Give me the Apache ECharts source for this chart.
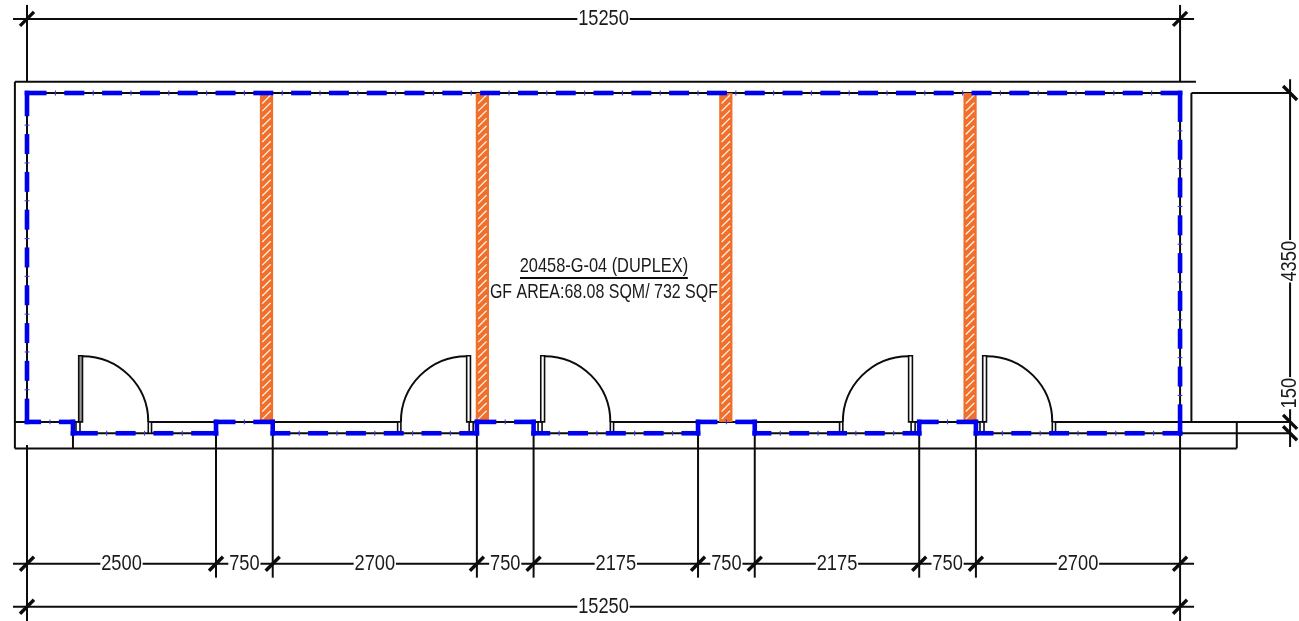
<!DOCTYPE html>
<html><head><meta charset="utf-8">
<style>html,body{margin:0;padding:0;background:#fff}#c{width:1299px;height:621px}</style>
<script src="https://cdn.jsdelivr.net/npm/echarts@6/dist/echarts.min.js"></script>
</head><body><div id="c"></div>
<script>
// plan values in millimetres
const bayDims = [2500,750,2700,750,2175,750,2175,750,2700];
const overallLength = 15250;
const roomDepth = 4350;
const stepDepth = 150;
const columnLeft = [3080,5935,9155,12385];
const columnWidth = 175;
// door: [hinge x, swing direction]
const doors = [[734,1],[5815,-1],[6845,1],[11660,-1],[12690,1]];
const doorRadius = 870, leafLength = 875, leafThick = 50;
const titleText = '20458-G-04 (DUPLEX)';
const areaText = 'GF AREA:68.08 SQM/ 732 SQF';

const cum = [0]; bayDims.forEach(d => cum.push(cum[cum.length-1]+d));
const yB = roomDepth, yS = roomDepth+stepDepth;
const frameTop=-150, frameBot=4700, frameLeft=-160, frameRight=16000;
const dimTop=-980, dim1=6225, dim2=6795, dimRight=16705, lineL=-185, lineR=15435;

// blue wall outline (each run is patterned on its own)
const outline = [[0,yB],[608,yB],[608,yS]];
for (let i=1;i<cum.length-1;i+=2){
  outline.push([cum[i],yS],[cum[i],yB],[cum[i+1],yB],[cum[i+1],yS]);
}
outline.push([overallLength,yS],[overallLength,0],[0,0],[0,yB]);
const wallRuns = outline.slice(1).map((p,i)=>[outline[i][0],outline[i][1],p[0],p[1]]);

// thin black linework
const black = [
 [frameLeft,frameTop,15460,frameTop],[frameLeft,frameTop,frameLeft,frameBot],
 [frameLeft,frameBot,frameRight,frameBot],[frameRight,yB,frameRight,frameBot],
 [608,yB,608,frameBot],[15400,0,15400,yB],
 [15400,0,dimRight,0],[overallLength,yS,dimRight,yS],
 [dimRight,-181,dimRight,4682],
 [0,-1165,0,frameTop],[overallLength,-1165,overallLength,frameTop],
 [lineL,dimTop,lineR,dimTop],[lineL,dim1,lineR,dim1],[lineL,dim2,lineR,dim2],
 [0,4655,0,6985],[overallLength,yS,overallLength,6985]
];
cum.slice(1,-1).forEach((x,i)=>black.push([x,i%2?yS:yB,x,6410]));
// top of front wall between door openings
let wx = frameLeft;
doors.forEach(([c,d])=>{
  const a = d>0 ? c-86 : c-doorRadius-43, b = d>0 ? c+doorRadius+43 : c+86;
  black.push([wx,yB,a,yB]); wx=b;
});
black.push([wx,yB,dimRight,yB]);

const ticksUp = [[0,dimTop],[overallLength,dimTop],[0,dim2],[overallLength,dim2]].concat(cum.map(x=>[x,dim1]));
const ticksDown = [[dimRight,0],[dimRight,yB],[dimRight,yS]];

const labels = [
 [overallLength/2,dimTop,String(overallLength),0],
 [overallLength/2,dim2,String(overallLength),0],
 [dimRight,roomDepth/2+50,String(roomDepth),1],
 [dimRight,3970,String(stepDepth),1]
];
bayDims.forEach((d,i)=>labels.push([(cum[i]+cum[i+1])/2,dim1,String(d),0]));

const FONT = '"Liberation Sans",Arial,sans-serif';
const INK = '#0c0c0c';
const seg = (shape,style)=>({type:'line',shape,style});

const chart = echarts.init(document.getElementById('c'),null,{renderer:'canvas'});
const custom = (data,renderItem,z)=>({type:'custom',data,renderItem,z,silent:true,animation:false,clip:false,
  coordinateSystem:'cartesian2d',encode:{x:0,y:1}});
const lineItem = (lw,col)=>(p,api)=>{
  const a=api.coord([api.value(0),api.value(1)]),b=api.coord([api.value(2),api.value(3)]);
  return seg({x1:a[0],y1:a[1],x2:b[0],y2:b[1]},{stroke:col,lineWidth:lw,lineCap:'butt'});
};
const PERIOD=37.8,DASH=20,GAP=8.9;
const BLUE='#0000F0';
chart.setOption({
 animation:false,
 grid:{left:0,right:0,top:0,bottom:0},
 xAxis:{type:'value',min:-357,max:16823,show:false},
 yAxis:{type:'value',min:-1230,max:6983,inverse:true,show:false},
 series:[
  custom(black,lineItem(2,INK),1),
  custom(wallRuns,lineItem(2,INK),2),
  // door jambs, leaves and swings
  custom(doors,(p,api)=>{
    const c=api.value(0),d=api.value(1);
    const P=(x,y)=>api.coord([x,y]);
    const box=(x0,x1,y0,y1,fill)=>{const a=P(Math.min(x0,x1),y0),b=P(Math.max(x0,x1),y1);
      return {type:'rect',shape:{x:a[0],y:a[1],width:b[0]-a[0],height:b[1]-a[1]},style:{fill,stroke:INK,lineWidth:1.6}};};
    const o=P(c,yB),r=P(c+doorRadius,yB)[0]-o[0];
    const arc=d>0?{startAngle:-Math.PI/2,endAngle:0}:{startAngle:Math.PI,endAngle:Math.PI*1.5};
    return {type:'group',children:[
      box(c-d*33,c-d*86,yB,yS,'#fff'),
      box(c+d*doorRadius,c+d*(doorRadius+43),yB,yS,'#fff'),
      box(c,c-d*leafThick,yB-leafLength,yB,p.dataIndex===0?'#999':'#fff'),
      {type:'arc',shape:{cx:o[0],cy:o[1],r,startAngle:arc.startAngle,endAngle:arc.endAngle,clockwise:true},
       style:{fill:null,stroke:INK,lineWidth:2}}
    ]};
  },3),
  // hatched columns
  custom(columnLeft,(p,api)=>{
    const a=api.coord([api.value(0),0]),b=api.coord([api.value(0)+columnWidth,yB]);
    const w=b[0]-a[0],h=b[1]-a[1];
    const kids=[{type:'rect',shape:{x:a[0],y:a[1],width:w,height:h},style:{fill:'#F0702B'}}];
    const inset=2.4,run=w-2*inset;
    for(let y=a[1]+2;y+run<b[1]-1;y+=7.7){
      kids.push(seg({x1:a[0]+inset,y1:y+run,x2:a[0]+inset+run,y2:y},{stroke:'#fff',lineWidth:1.3,opacity:.9}));
    }
    return {type:'group',children:kids};
  },4),
  // blue dashed outline
  custom(wallRuns,(p,api)=>{
    const a=api.coord([api.value(0),api.value(1)]),b=api.coord([api.value(2),api.value(3)]);
    const L=Math.hypot(b[0]-a[0],b[1]-a[1]),ux=(b[0]-a[0])/L,uy=(b[1]-a[1])/L;
    const pt=s=>[a[0]+ux*s,a[1]+uy*s];
    const n=Math.max(0,Math.round((L-DASH)/PERIOD));
    const kids=[];
    const add=(s0,s1)=>{const q=pt(s0),r=pt(s1);
      kids.push(seg({x1:q[0],y1:q[1],x2:r[0],y2:r[1]},{stroke:BLUE,lineWidth:4.6,lineCap:'butt'}));};
    if(n===0){add(-2.3,L+2.3);}
    else{
      const end=(L-DASH-n*PERIOD)/2+DASH;
      add(-2.3,end);add(L-end,L+2.3);
      for(let i=0;i<n;i++){
        const s=end+i*PERIOD;
        const t=s+GAP;
        const q=pt(t),nx=-uy*2.4,ny=ux*2.4;
        kids.push(seg({x1:q[0]+nx,y1:q[1]+ny,x2:q[0]-nx,y2:q[1]-ny},{stroke:'#3838F0',lineWidth:1.1}));
        if(i<n-1)add(s+PERIOD-DASH,s+PERIOD);
      }
    }
    return {type:'group',children:kids};
  },5),
  // dimension ticks
  custom(ticksUp,(p,api)=>{const a=api.coord([api.value(0),api.value(1)]);
    return seg({x1:a[0]-7,y1:a[1]+7,x2:a[0]+7,y2:a[1]-7},{stroke:INK,lineWidth:3.4});},6),
  custom(ticksDown,(p,api)=>{const a=api.coord([api.value(0),api.value(1)]);
    return seg({x1:a[0]-7,y1:a[1]-7,x2:a[0]+7,y2:a[1]+7},{stroke:INK,lineWidth:3.4});},6),
  // dimension texts
  custom(labels,(p,api)=>{const a=api.coord([api.value(0),api.value(1)]);const rot=api.value(3);
    return {type:'text',x:a[0],y:a[1],rotation:rot?Math.PI/2:0,scaleX:.83,
      style:{text:labels[p.dataIndex][2],fontFamily:FONT,fontSize:22,fill:'#1a1a1a',align:'center',verticalAlign:'middle',
        backgroundColor:'#fff',padding:[0,1]}};},7),
  // room title
  custom([[604,0]],(p,api)=>{
    const t=api.coord([overallLength/2+5,2288]),m=api.coord([overallLength/2+5,2639]);
    const u0=api.coord([6520,2447]),u1=api.coord([8740,2447]);
    return {type:'group',children:[
      {type:'text',x:t[0],y:t[1],scaleX:.78,style:{text:titleText,fontFamily:FONT,fontSize:21,fill:'#1a1a1a',align:'center',verticalAlign:'middle'}},
      {type:'text',x:m[0],y:m[1],scaleX:.76,style:{text:areaText,fontFamily:FONT,fontSize:21,fill:'#1a1a1a',align:'center',verticalAlign:'middle'}},
      seg({x1:u0[0],y1:u0[1],x2:u1[0],y2:u1[1]},{stroke:INK,lineWidth:2})
    ]};
  },7)
 ]
});
</script></body></html>
